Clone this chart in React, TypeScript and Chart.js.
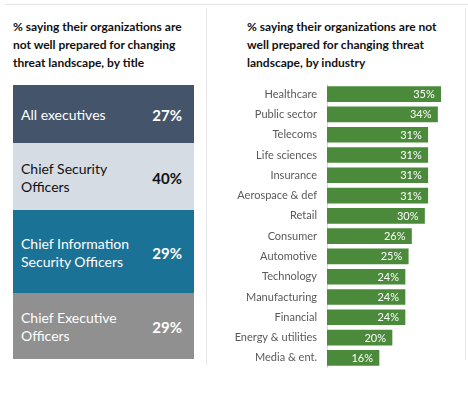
import React, { useEffect, useRef } from "react";
import { Chart, registerables } from "chart.js";

Chart.register(...registerables);

const industries = [
  "Healthcare",
  "Public sector",
  "Telecoms",
  "Life sciences",
  "Insurance",
  "Aerospace & def",
  "Retail",
  "Consumer",
  "Automotive",
  "Technology",
  "Manufacturing",
  "Financial",
  "Energy & utilities",
  "Media & ent.",
];
const industryValues = [35, 34, 31, 31, 31, 31, 30, 26, 25, 24, 24, 24, 20, 16];

const roleLabels = [
  ["All executives"],
  ["Chief Security", "Officers"],
  ["Chief Information", "Security Officers"],
  ["Chief Executive", "Officers"],
];
const roleValues = [27, 40, 29, 29];

const leftTitle = "% saying their organizations are not well prepared for changing threat landscape, by title";
const rightTitle = "% saying their organizations are not well prepared for changing threat landscape, by industry";

const FONT = "Lato, 'Open Sans', sans-serif";

const boxStyles = [
  { bg: "#44546a", color: "#ffffff", top: 85, height: 58 },
  { bg: "#d6dce4", color: "#111111", top: 143, height: 67 },
  { bg: "#1b7297", color: "#ffffff", top: 210, height: 83 },
  { bg: "#909090", color: "#ffffff", top: 293, height: 66 },
];

const valueLabelPlugin = {
  id: "valueLabels",
  afterDatasetsDraw(chart: any) {
    const ctx = chart.ctx;
    const meta = chart.getDatasetMeta(0);
    ctx.save();
    ctx.fillStyle = "#ffffff";
    ctx.font = `11px ${FONT}`;
    ctx.textAlign = "right";
    ctx.textBaseline = "middle";
    meta.data.forEach((bar: any, i: number) => {
      ctx.fillText(`${industryValues[i]}%`, bar.x - 6, bar.y + 0.5);
    });
    ctx.restore();
  },
};

function IndustryChart() {
  const ref = useRef<HTMLCanvasElement | null>(null);
  useEffect(() => {
    if (!ref.current) return;
    const chart = new Chart(ref.current, {
      type: "bar",
      data: {
        labels: industries,
        datasets: [
          {
            data: industryValues,
            backgroundColor: "#4b8a3b",
            borderWidth: 0,
            barThickness: 15,
          },
        ],
      },
      options: {
        indexAxis: "y",
        responsive: false,
        maintainAspectRatio: false,
        animation: false,
        layout: { padding: 0 },
        plugins: {
          legend: { display: false },
          tooltip: { enabled: false },
          title: { display: false },
        },
        scales: {
          x: {
            display: false,
            min: 0,
            max: 40,
          },
          y: {
            grid: { display: false, drawTicks: false },
            border: { display: true, color: "#d9d9d9", width: 1 },
            ticks: {
              color: "#595959",
              font: { family: FONT, size: 11 },
              padding: 10,
              autoSkip: false,
            },
            afterFit(scale: any) {
              scale.width = 93;
              scale.paddingTop = 0;
              scale.paddingBottom = 0;
            },
          },
        },
      },
      plugins: [valueLabelPlugin],
    } as any);
    return () => chart.destroy();
  }, []);
  return (
    <canvas
      ref={ref}
      width={223}
      height={284}
      style={{ position: "absolute", left: 234, top: 84, width: 223, height: 284 }}
    />
  );
}

export default function App() {
  return (
    <div
      style={{
        position: "absolute",
        left: 0,
        top: 0,
        width: 468,
        height: 394,
        background: "#ffffff",
        fontFamily: FONT,
        overflow: "hidden",
      }}
    >
      <div style={{ position: "absolute", left: 5, top: 4, width: 463, height: 1, background: "#e6e6e6" }} />
      <div style={{ position: "absolute", left: 206, top: 8, width: 1, height: 357, background: "#e6e6e6" }} />
      <div style={{ position: "absolute", left: 465, top: 8, width: 1, height: 352, background: "#e6e6e6" }} />

      <div
        style={{
          position: "absolute",
          left: 13,
          top: 18,
          width: 185,
          fontSize: 12,
          fontWeight: 700,
          lineHeight: "18px",
          color: "#111111",
        }}
      >
        {leftTitle}
      </div>
      <div
        style={{
          position: "absolute",
          left: 247,
          top: 18,
          width: 205,
          fontSize: 12,
          fontWeight: 700,
          lineHeight: "18px",
          color: "#111111",
        }}
      >
        {rightTitle}
      </div>

      {roleLabels.map((lines, i) => (
        <div
          key={i}
          style={{
            position: "absolute",
            left: 13,
            top: boxStyles[i].top,
            width: 181,
            height: boxStyles[i].height,
            background: boxStyles[i].bg,
            color: boxStyles[i].color,
            display: "flex",
            alignItems: "center",
            justifyContent: "space-between",
            boxSizing: "border-box",
            paddingLeft: 8,
            paddingRight: 12,
            paddingTop: 2,
          }}
        >
          <div style={{ fontSize: 14, lineHeight: "18px" }}>
            {lines.map((l, j) => (
              <div key={j}>{l}</div>
            ))}
          </div>
          <div style={{ fontSize: 15, fontWeight: 700 }}>{roleValues[i]}%</div>
        </div>
      ))}

      <IndustryChart />
    </div>
  );
}
